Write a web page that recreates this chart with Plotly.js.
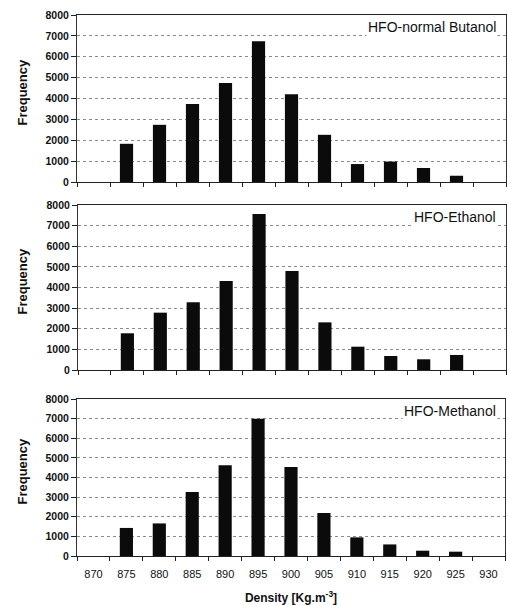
<!DOCTYPE html>
<html>
<head>
<meta charset="utf-8">
<script src="https://cdn.plot.ly/plotly-3.0.1.min.js"></script>
<style>
  html, body { margin: 0; padding: 0; background: #fff; }
  #chart { width: 507px; height: 605px; }
</style>
</head>
<body>
<div id="chart"></div>
<script>
// Density bins [Kg.m-3]
const densityBins = ['870', '875', '880', '885', '890', '895', '900', '905', '910', '915', '920', '925', '930'];

// Frequency counts per bin for each blend
const butanolFreq  = [0, 1830, 2740, 3740, 4740, 6740, 4200, 2260, 860, 980, 670, 300, 0];
const ethanolFreq  = [0, 1780, 2780, 3280, 4310, 7560, 4800, 2310, 1130, 680, 520, 730, 0];
const methanolFreq = [0, 1430, 1660, 3260, 4620, 7000, 4530, 2190, 950, 590, 270, 220, 0];

const panelNames = ['HFO-normal Butanol', 'HFO-Ethanol', 'HFO-Methanol'];
const yTickVals = [0, 1000, 2000, 3000, 4000, 5000, 6000, 7000, 8000];

const W = 507, H = 605;
const px = v => v / W;
const py = v => 1 - v / H;

// Plot frames in pixel coordinates: [left, right, top, bottom]
const frames = [
  [77, 506, 15, 182],
  [78, 506, 205, 370],
  [77, 505, 399, 556]
];

const series = [butanolFreq, ethanolFreq, methanolFreq];
const barColor = '#0b0b0b';
const font = 'Arial, "Liberation Sans", sans-serif';

const traces = series.map((vals, i) => ({
  type: 'bar',
  x: densityBins,
  y: vals,
  xaxis: i === 0 ? 'x' : 'x' + (i + 1),
  yaxis: i === 0 ? 'y' : 'y' + (i + 1),
  marker: { color: barColor, line: { width: 0 } },
  hoverinfo: 'x+y',
  showlegend: false
}));

const layout = {
  width: W,
  height: H,
  margin: { l: 0, r: 0, t: 0, b: 0 },
  paper_bgcolor: '#fff',
  plot_bgcolor: '#fff',
  bargap: 0.6,
  font: { family: font, color: '#111' },
  annotations: []
};

frames.forEach((f, i) => {
  const sfx = i === 0 ? '' : String(i + 1);
  const last = i === frames.length - 1;
  const xa = {
    type: 'category',
    domain: [px(f[0]), px(f[1])],
    anchor: 'y' + sfx,
    range: [-0.5, densityBins.length - 0.5],
    tickson: 'boundaries',
    ticks: 'outside',
    ticklen: 4,
    tickcolor: '#222',
    tickwidth: 1,
    showticklabels: last,
    tickfont: { family: font, size: 11, color: '#111' },
    ticklabelstandoff: 8,
    showline: true,
    linecolor: '#222',
    linewidth: 1,
    mirror: true,
    showgrid: false,
    zeroline: false,
    fixedrange: true
  };
  if (last) {
    xa.title = {
      text: 'Density [Kg.m<sup>-3</sup>]',
      font: { family: font, size: 12, color: '#111', weight: 'bold' },
      standoff: 14
    };
  }
  layout['xaxis' + sfx] = xa;
  layout['yaxis' + sfx] = {
    domain: [py(f[3]), py(f[2])],
    anchor: 'x' + sfx,
    range: [0, 8000],
    tickvals: yTickVals,
    ticks: 'outside',
    ticklen: 5,
    tickcolor: '#222',
    tickfont: { family: font, size: 10.5, color: '#111', weight: 'bold' },
    showline: true,
    linecolor: '#333',
    linewidth: 1,
    mirror: true,
    showgrid: true,
    gridcolor: '#8a8a8a',
    gridwidth: 1,
    griddash: 'dot',
    zeroline: false,
    fixedrange: true
  };
  // vertical axis caption
  layout.annotations.push({
    xref: 'paper', yref: 'paper',
    x: px(22), y: py((f[2] + f[3]) / 2 - 6),
    text: 'Frequency',
    textangle: -90,
    showarrow: false,
    xanchor: 'center', yanchor: 'middle',
    font: { family: font, size: 13, color: '#111', weight: 'bold' }
  });
  // blend label in upper right corner
  layout.annotations.push({
    xref: 'paper', yref: 'paper',
    x: px(498), y: py(f[2] + 12),
    text: panelNames[i],
    showarrow: false,
    xanchor: 'right', yanchor: 'middle',
    bgcolor: '#fff',
    font: { family: font, size: 14, color: '#111' }
  });
});

Plotly.newPlot('chart', traces, layout, { staticPlot: true });
</script>
</body>
</html>
